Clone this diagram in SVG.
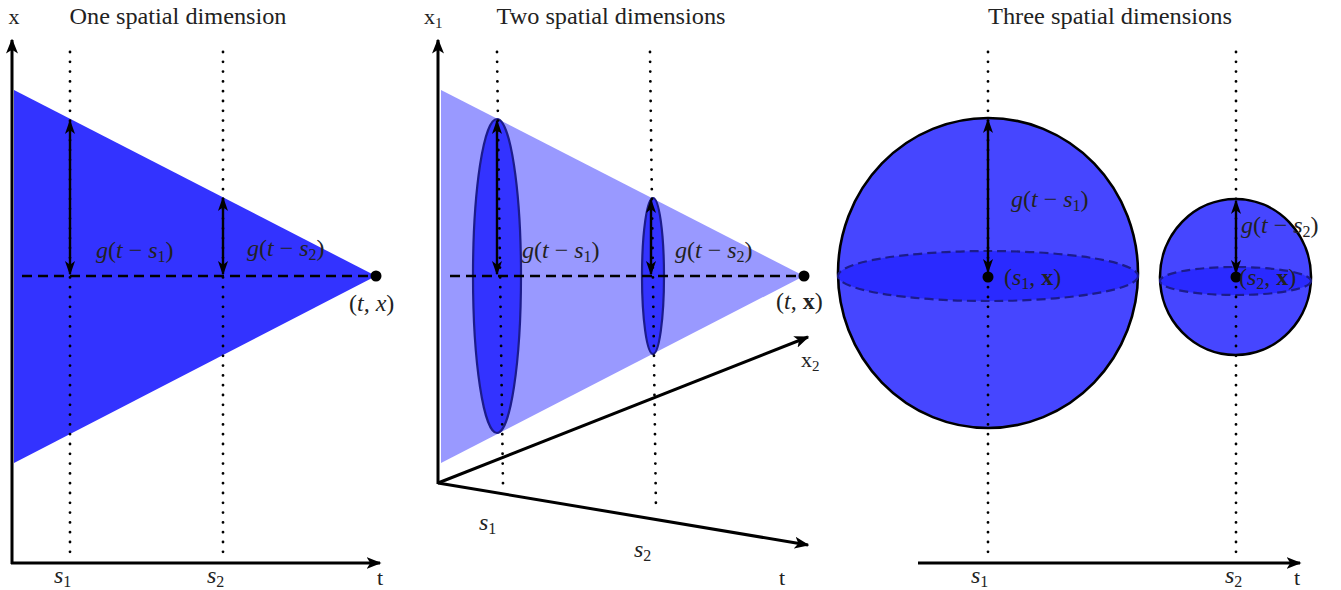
<svg xmlns="http://www.w3.org/2000/svg" width="1341" height="590" viewBox="0 0 1341 590">
<defs>
<marker id="ah" viewBox="0 0 10 10" refX="9" refY="5" markerWidth="5" markerHeight="5" orient="auto-start-reverse" markerUnits="strokeWidth">
<path d="M0,1 L10,5 L0,9 L2.5,5 Z" fill="#000"/>
</marker>
<marker id="ahs" viewBox="0 0 10 10" refX="9" refY="5" markerWidth="6" markerHeight="6" orient="auto-start-reverse" markerUnits="strokeWidth">
<path d="M0,1.5 L10,5 L0,8.5 L2.5,5 Z" fill="#000"/>
</marker>
</defs>
<style>
.axis{stroke:#000;stroke-width:3;fill:none;marker-end:url(#ah)}
.dot{stroke:#000;stroke-width:2.8;stroke-linecap:round;stroke-dasharray:0 9.8;fill:none}
.dash{stroke:#000;stroke-width:2.6;stroke-dasharray:10 6;fill:none}
.arr{stroke:#000;stroke-width:2.4;fill:none;marker-start:url(#ahs);marker-end:url(#ahs)}
.t{font-family:"Liberation Serif","DejaVu Serif",serif;fill:#222}
.title{font-size:24px}
.m{font-family:"Liberation Serif","DejaVu Serif",serif;font-size:24px;fill:#222}
.i{font-style:italic}
.b{font-weight:bold}
.sub{font-size:16px}
</style>

<g id="panel1">
  <text class="t title" x="178" y="24" text-anchor="middle" textLength="217" lengthAdjust="spacingAndGlyphs">One spatial dimension</text>
  <polygon id="cone1" points="14,90 376,276 14,463" fill="#3333ff"/>
  <g id="axes1">
    <line class="axis" x1="12" y1="564" x2="12" y2="40"/>
    <line class="axis" x1="11" y1="563" x2="380" y2="563"/>
    <text class="t" x="14" y="24" font-size="22" text-anchor="middle">x</text>
    <text class="t" x="380" y="585" font-size="22" text-anchor="middle">t</text>
  </g>
  <line class="dash" x1="22" y1="276" x2="376" y2="276"/>
  <line class="arr" x1="70" y1="121" x2="70" y2="274"/>
  <line class="arr" x1="223" y1="198" x2="223" y2="274"/>
  <line class="dot" x1="70" y1="52" x2="70" y2="552"/>
  <line class="dot" x1="223" y1="52" x2="223" y2="552"/>
  <circle cx="376" cy="276" r="5.5" fill="#000"/>
  <text class="m" x="96" y="258"><tspan class="i">g</tspan>(<tspan class="i">t</tspan> − <tspan class="i">s</tspan><tspan class="sub" dy="4">1</tspan><tspan dy="-4">)</tspan></text>
  <text class="m" x="247" y="256"><tspan class="i">g</tspan>(<tspan class="i">t</tspan> − <tspan class="i">s</tspan><tspan class="sub" dy="4">2</tspan><tspan dy="-4">)</tspan></text>
  <text class="m" x="349" y="311">(<tspan class="i">t, x</tspan>)</text>
  <text class="m" x="54" y="583"><tspan class="i">s</tspan><tspan class="sub" dy="4">1</tspan></text>
  <text class="m" x="207" y="583"><tspan class="i">s</tspan><tspan class="sub" dy="4">2</tspan></text>
</g>

<g id="panel2">
  <text class="t title" x="611" y="24" text-anchor="middle" textLength="229" lengthAdjust="spacingAndGlyphs">Two spatial dimensions</text>
  <polygon id="cone2" points="441,90 804,276 441,463" fill="#9999ff"/>
  <ellipse id="disk1" cx="497" cy="276" rx="24" ry="157" fill="#3333ff" stroke="#1c1c8a" stroke-width="2.2"/>
  <ellipse id="disk2" cx="653" cy="276" rx="11" ry="78" fill="#3333ff" stroke="#1c1c8a" stroke-width="2.2"/>
  <g id="axes2">
    <line class="axis" x1="438" y1="484" x2="438" y2="40"/>
    <line class="axis" x1="438" y1="483" x2="808" y2="337"/>
    <line class="axis" x1="438" y1="483" x2="808" y2="545"/>
    <text class="t" x="424" y="24" font-size="22">x<tspan font-size="15" dy="4">1</tspan></text>
    <text class="t" x="801" y="367" font-size="22">x<tspan font-size="15" dy="4">2</tspan></text>
    <text class="t" x="782" y="585" font-size="22" text-anchor="middle">t</text>
  </g>
  <line class="dash" x1="450" y1="276" x2="804" y2="276"/>
  <line class="arr" x1="497" y1="121" x2="497" y2="274"/>
  <line class="arr" x1="651" y1="200" x2="651" y2="274"/>
  <line class="dot" x1="497" y1="52" x2="503" y2="485"/>
  <line class="dot" x1="650" y1="52" x2="656" y2="512"/>
  <circle cx="804" cy="276" r="5.5" fill="#000"/>
  <text class="m" x="522" y="258"><tspan class="i">g</tspan>(<tspan class="i">t</tspan> − <tspan class="i">s</tspan><tspan class="sub" dy="4">1</tspan><tspan dy="-4">)</tspan></text>
  <text class="m" x="675" y="258"><tspan class="i">g</tspan>(<tspan class="i">t</tspan> − <tspan class="i">s</tspan><tspan class="sub" dy="4">2</tspan><tspan dy="-4">)</tspan></text>
  <text class="m" x="776" y="309">(<tspan class="i">t</tspan>, <tspan class="b">x</tspan>)</text>
  <text class="m" x="479" y="530"><tspan class="i">s</tspan><tspan class="sub" dy="4">1</tspan></text>
  <text class="m" x="634" y="557"><tspan class="i">s</tspan><tspan class="sub" dy="4">2</tspan></text>
</g>

<g id="panel3">
  <text class="t title" x="1110" y="24" text-anchor="middle" textLength="244" lengthAdjust="spacingAndGlyphs">Three spatial dimensions</text>
  <g id="sphere1">
    <ellipse cx="988" cy="273" rx="150" ry="155" fill="#4646ff" stroke="#000" stroke-width="2.6"/>
    <ellipse cx="988" cy="276" rx="150" ry="25" fill="#2a2aff" stroke="#1c1c8a" stroke-width="2.2" stroke-dasharray="9 5"/>
  </g>
  <g id="sphere2">
    <ellipse cx="1235.5" cy="277" rx="75.5" ry="78" fill="#4646ff" stroke="#000" stroke-width="2.6"/>
    <ellipse cx="1235.5" cy="281" rx="75.5" ry="14" fill="#2a2aff" stroke="#1c1c8a" stroke-width="2.2" stroke-dasharray="9 5"/>
  </g>
  <g id="axes3">
    <line class="axis" x1="918" y1="563" x2="1300" y2="563"/>
    <text class="t" x="1297" y="585" font-size="22" text-anchor="middle">t</text>
  </g>
  <line class="arr" x1="988" y1="120" x2="988" y2="272"/>
  <line class="arr" x1="1236" y1="201" x2="1236" y2="273"/>
  <line class="dot" x1="988" y1="52" x2="988" y2="552"/>
  <line class="dot" x1="1236" y1="52" x2="1236" y2="552"/>
  <circle cx="988" cy="277" r="5.5" fill="#000"/>
  <circle cx="1236" cy="277" r="5.5" fill="#000"/>
  <text class="m" x="1011" y="207"><tspan class="i">g</tspan>(<tspan class="i">t</tspan> − <tspan class="i">s</tspan><tspan class="sub" dy="4">1</tspan><tspan dy="-4">)</tspan></text>
  <text class="m" x="1241" y="233"><tspan class="i">g</tspan>(<tspan class="i">t</tspan> − <tspan class="i">s</tspan><tspan class="sub" dy="4">2</tspan><tspan dy="-4">)</tspan></text>
  <text class="m" x="1004" y="285">(<tspan class="i">s</tspan><tspan class="sub" dy="4">1</tspan><tspan dy="-4">, </tspan><tspan class="b">x</tspan>)</text>
  <text class="m" x="1239" y="285">(<tspan class="i">s</tspan><tspan class="sub" dy="4">2</tspan><tspan dy="-4">, </tspan><tspan class="b">x</tspan>)</text>
  <text class="m" x="971" y="583"><tspan class="i">s</tspan><tspan class="sub" dy="4">1</tspan></text>
  <text class="m" x="1225" y="583"><tspan class="i">s</tspan><tspan class="sub" dy="4">2</tspan></text>
</g>
</svg>
